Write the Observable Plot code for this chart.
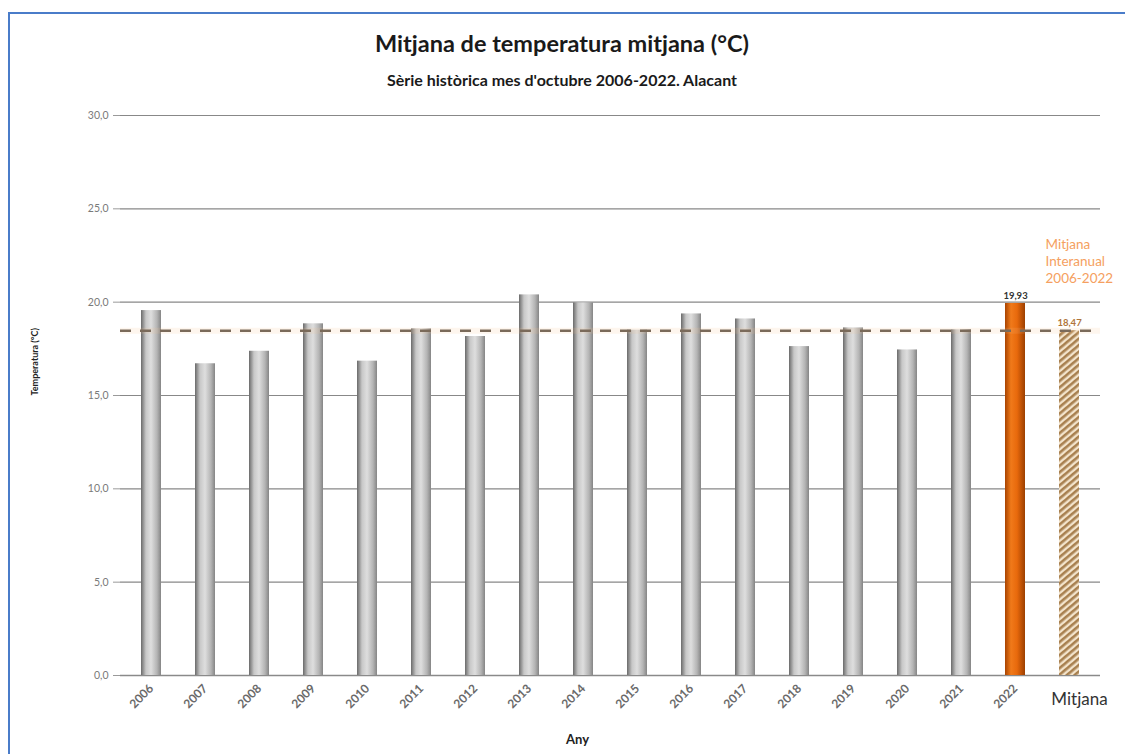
<!DOCTYPE html>
<html><head><meta charset="utf-8">
<script src="https://cdn.jsdelivr.net/npm/d3@7"></script>
<script src="https://cdn.jsdelivr.net/npm/@observablehq/plot@0.6"></script>
<style>
html,body{margin:0;padding:0;background:#fff;overflow:hidden;width:1125px;height:754px;}
body{font-family:Lato,"Open Sans",sans-serif;position:relative;}
#frame{position:absolute;left:8px;top:12px;width:1150px;height:780px;border:2px solid #4a7cc9;box-sizing:border-box;}
.ttl{position:absolute;left:0;width:1124px;text-align:center;font-weight:bold;color:#1a1a1a;}
#t1{top:29px;font-size:23.5px;}
#t2{top:70px;font-size:16px;}
#chart{position:absolute;left:0;top:100px;}
</style></head>
<body>
<div id="frame"></div>
<div class="ttl" id="t1">Mitjana de temperatura mitjana (°C)</div>
<div class="ttl" id="t2">Sèrie històrica mes d'octubre 2006-2022. Alacant</div>
<div id="chart"></div>
<script>
const years = ["2006","2007","2008","2009","2010","2011","2012","2013","2014","2015","2016","2017","2018","2019","2020","2021","2022"];
const temps = [19.55,16.70,17.37,18.84,16.84,18.57,18.16,20.39,19.96,18.50,19.37,19.10,17.62,18.62,17.44,18.52,19.93];
const meanCategory = "Mitjana";
const meanValue = 18.47;
const yTicks = [0,5,10,15,20,25,30];
const meanNote = "Mitjana\nInteranual\n2006-2022";

const rows = years.map((y,i)=>({cat:y, value:temps[i], kind: y==="2022" ? "current" : "year"}));
rows.push({cat:meanCategory, value:meanValue, kind:"mean"});
const fmt = v => v.toFixed(2).replace(".", ",");

const plot = Plot.plot({
  width:1125, height:654,
  marginLeft:120, marginRight:25, marginTop:15, marginBottom:79,
  style:{fontFamily:"Lato, 'Open Sans', sans-serif", background:"transparent"},
  x:{type:"band", domain:rows.map(d=>d.cat), paddingInner:0.63, paddingOuter:0.315, label:null},
  y:{domain:[0,30], label:null},
  marks:[
    Plot.gridY(yTicks, {stroke:"#888", strokeOpacity:1, strokeWidth:1.2}),
    Plot.ruleX([0], {frameAnchor:"left", stroke:"#9a9a9a"}),
    Plot.axisY(yTicks, {tickFormat:d=>d.toFixed(1).replace(".", ","), tickSize:7, tickPadding:5, fontSize:10.5, color:"#7a7a7a", stroke:"#9a9a9a", label:null}),
    Plot.ruleY([0], {stroke:"#8a8a8a", strokeWidth:1.5}),
    Plot.barY(rows.filter(d=>d.kind==="year"), {x:"cat", y:"value", fill:"url(#grayGrad)"}),
    Plot.barY(rows.filter(d=>d.kind==="current"), {x:"cat", y:"value", fill:"url(#orangeGrad)"}),
    Plot.barY(rows.filter(d=>d.kind==="mean"), {x:"cat", y:"value", fill:"url(#hatch)"}),
    Plot.ruleY([meanValue], {stroke:"#f7c48a", strokeWidth:6, strokeOpacity:0.15}),
    Plot.ruleY([meanValue], {stroke:"#7a6a5a", strokeWidth:2.5, strokeDasharray:"11,9"}),
    Plot.text(rows.filter(d=>d.kind==="current"), {x:"cat", y:"value", text:d=>fmt(d.value), dy:-8, fontSize:9.5, fontWeight:"bold", fill:"#333"}),
    Plot.text(rows.filter(d=>d.kind==="mean"), {x:"cat", y:"value", text:d=>fmt(d.value), dy:-8, fontSize:9.5, fontWeight:"bold", fill:"#b0743a"}),
    Plot.axisX({tickRotate:-45, tickSize:0, tickPadding:11, fontSize:12, fontWeight:"bold", color:"#6a6a6a", tickFormat:d=>d===meanCategory?"":d, label:null}),
    Plot.text([meanCategory], {x:d=>d, frameAnchor:"bottom", dy:29, dx:10, fontSize:17, fill:"#333"}),
    Plot.text(["Any"], {frameAnchor:"bottom", dx:-33, dy:68, fontSize:13, fontWeight:"bold", fill:"#222"}),
    Plot.text(["Temperatura (°C)"], {frameAnchor:"left", dx:-85, rotate:-90, fontSize:9, fontWeight:"bold", fill:"#222"}),
    Plot.text([meanNote], {frameAnchor:"top-right", dx:-55, dy:122, textAnchor:"start", lineAnchor:"top", fontSize:13.5, lineHeight:1.25, fill:"#f5a060", style:"letter-spacing:0.6px"})
  ]
});

d3.select(plot).insert("defs", ":first-child").html(`
  <linearGradient id="grayGrad" x1="0" x2="1" y1="0" y2="0">
    <stop offset="0" stop-color="#6a6a6a"/>
    <stop offset="0.25" stop-color="#c8c8c8"/>
    <stop offset="0.5" stop-color="#dedede"/>
    <stop offset="0.8" stop-color="#b4b4b4"/>
    <stop offset="1" stop-color="#858585"/>
  </linearGradient>
  <linearGradient id="orangeGrad" x1="0" x2="1" y1="0" y2="0">
    <stop offset="0" stop-color="#a84300"/>
    <stop offset="0.3" stop-color="#f07a1a"/>
    <stop offset="0.6" stop-color="#e8690c"/>
    <stop offset="1" stop-color="#9c3f00"/>
  </linearGradient>
  <pattern id="hatch" patternUnits="userSpaceOnUse" width="5" height="5" patternTransform="rotate(-40)">
    <rect width="5" height="5" fill="#f3e4cc"/>
    <rect width="5" height="2.6" fill="#a8804f"/>
  </pattern>
`);
document.getElementById("chart").appendChild(plot);
</script>
</body></html>
